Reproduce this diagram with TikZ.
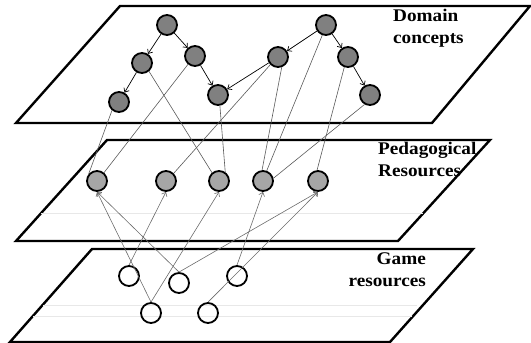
\documentclass[tikz,border=0pt]{standalone}
\usepackage{fontspec}
\setmainfont{Liberation Serif}[FakeStretch=1.08]
\usetikzlibrary{arrows.meta}
\begin{document}
\begin{tikzpicture}[x=1pt,y=-1pt,
  plane/.style={line width=2.4pt, line join=miter},
  haze/.style={draw=black!9, line width=0.6pt},
  concept/.style={circle, draw=black, line width=1.8pt, fill=black!50, minimum size=20pt, inner sep=0pt},
  resource/.style={concept, fill=black!35},
  gameres/.style={circle, draw=black, line width=1.8pt, minimum size=20pt, inner sep=0pt},
  link/.style={draw=black, line width=0.7pt, -{Straight Barb[length=3.5pt,width=6pt]}},
  tie/.style={draw=black!65, line width=0.6pt},
  uses/.style={draw=black!58, line width=0.6pt, -{Straight Barb[length=3.5pt,width=6pt]}},
  lbl/.style={font=\bfseries\fontsize{17.8}{22}\selectfont, inner sep=0pt}
]
\useasboundingbox (0,0) rectangle (531,343);

% the three layers
\draw[plane] (120,6) -- (530,6) -- (432,123) -- (16,123) -- cycle;
\draw[plane] (107,140) -- (490,140) -- (398,241) -- (16,241) -- cycle;
\draw[plane] (92,249) -- (473,249) -- (390,342) -- (10,342) -- cycle;
\draw[haze] (41,213) -- (423,213);
\draw[haze] (43,305) -- (417,305);
\draw[haze] (33,316) -- (412,316);

% layer titles
\node[lbl, anchor=north west, align=left] (dom) at (393,8.5) {Domain\\concepts};
\node[lbl, anchor=north west, align=left] (ped) at (378,142) {Pedagogical\\Resources};
\node[lbl, anchor=north east, align=right] (game) at (426,253) {Game\\resources};

% domain concepts
\node[concept] (a) at (167,25) {};
\node[concept] (b) at (142,63) {};
\node[concept] (c) at (195,56) {};
\node[concept] (d) at (119,102) {};
\node[concept] (e) at (218,95) {};
\node[concept] (f) at (326,25) {};
\node[concept] (g) at (278,57) {};
\node[concept] (h) at (348,57) {};
\node[concept] (i) at (370,95) {};

% pedagogical resources
\node[resource] (p1) at (97,181) {};
\node[resource] (p2) at (166,181) {};
\node[resource] (p3) at (219,181) {};
\node[resource] (p4) at (263,181) {};
\node[resource] (p5) at (318,181) {};

% game resources
\node[gameres] (r1) at (129,276) {};
\node[gameres] (r2) at (179,283) {};
\node[gameres] (r3) at (237,276) {};
\node[gameres] (r4) at (151,313) {};
\node[gameres] (r5) at (208,313) {};

% concept hierarchy
\draw[link] (a) -- (b);
\draw[link] (a) -- (c);
\draw[link] (b) -- (d);
\draw[link] (c) -- (e);
\draw[link] (g) -- (e);
\draw[link] (f) -- (g);
\draw[link] (f) -- (h);
\draw[link] (h) -- (i);

% concepts covered by pedagogical resources
\draw[tie] (d.230) -- (p1.140);
\draw[tie] (c.230) -- (p1.50);
\draw[tie] (b.310) -- (p3.130);
\draw[tie] (e.280) -- (p3.55);
\draw[tie] (g.225) -- (p2.45);
\draw[tie] (g.290) -- (p4.95);
\draw[tie] (f.250) -- (p4.70);
\draw[tie] (i.240) -- (p4.15);
\draw[tie] (h.250) -- (p5.95);

% game resources supporting pedagogical resources
\draw[uses] (r4.north) -- (p1.south);
\draw[uses] (r2.north) -- (p1.south);
\draw[uses] (r1.north) -- (p2.south);
\draw[uses] (r4.north) -- (p3.south);
\draw[uses] (r3.north) -- (p4.south);
\draw[uses] (r2.north) -- (p5.south);
\draw[uses] (r5.north) -- (p5.south);
\end{tikzpicture}
\end{document}
